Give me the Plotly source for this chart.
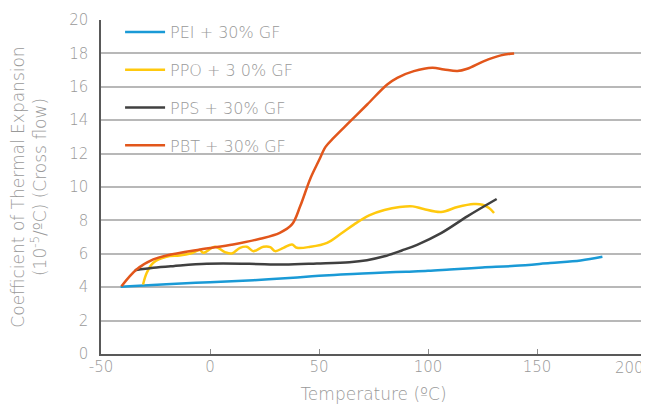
import plotly.graph_objects as go

# ---- data ----
pei_x = [-41, -20, 0, 20, 40, 50, 60, 70, 80, 90, 100, 110, 125, 140, 156, 170, 180]
pei_y = [4.02, 4.18, 4.30, 4.42, 4.58, 4.68, 4.76, 4.82, 4.88, 4.93, 4.98, 5.06, 5.18, 5.28, 5.45, 5.60, 5.82]

ppo_x = [-30.7, -29, -26, -20, -14, -9, -4.6, -3.1, 2.3, 6.9, 10, 13.8, 16.9, 19.9, 24.5,
         27.6, 29.9, 33.7, 37.6, 39.9, 46, 53.7, 60, 66, 73, 80, 87, 93, 98, 106, 113.5,
         121, 125, 128, 130.3]
ppo_y = [4.16, 4.86, 5.46, 5.82, 5.90, 6.02, 6.22, 6.06, 6.42, 6.10, 6.02, 6.36, 6.42, 6.16, 6.42,
         6.40, 6.16, 6.36, 6.56, 6.36, 6.42, 6.66, 7.20, 7.75, 8.30, 8.62, 8.80, 8.84, 8.68, 8.50, 8.80,
         8.98, 8.94, 8.74, 8.44]

pps_x = [-34.5, -26, -17, -1.5, 18, 34, 49, 64, 72, 80, 88, 95, 106, 118, 131.5]
pps_y = [5.02, 5.16, 5.26, 5.40, 5.40, 5.36, 5.42, 5.50, 5.62, 5.85, 6.20, 6.54, 7.24, 8.24, 9.28]

pbt_x = [-40.6, -33.7, -26, -20, -4.6, 10.6, 23, 32, 37.6, 41.4, 46, 50, 53, 56.7, 64.4, 72.1,
         81.3, 85.9, 93.5, 102, 107.3, 113.5, 118, 125.7, 133.4, 139.5]
pbt_y = [4.06, 5.06, 5.66, 5.90, 6.26, 6.56, 6.90, 7.26, 7.76, 8.86, 10.50, 11.60, 12.40, 12.94, 13.94, 14.94,
         16.14, 16.54, 16.94, 17.14, 17.04, 16.94, 17.08, 17.54, 17.88, 18.00]

series_names = ["PEI + 30% GF", "PPO + 3 0% GF", "PPS + 30% GF", "PBT + 30% GF"]
series_colors = ["#1a9ad6", "#ffc90e", "#404040", "#e2561b"]

x_ticks = [-50, 0, 50, 100, 150, 200]
x_tick_text = ["-50", "0", "50", "100", "150", ""]
last_x_label = "200"
y_ticks = [0, 2, 4, 6, 8, 10, 12, 14, 16, 18, 20]

FONT = "DejaVu Sans"
GREY = "#999999"
W = 300

fig = go.Figure()
for i, (xs, ys) in enumerate([(pei_x, pei_y), (ppo_x, ppo_y), (pps_x, pps_y), (pbt_x, pbt_y)]):
    fig.add_trace(go.Scatter(
        x=xs, y=ys, mode="lines", name=series_names[i],
        line=dict(color=series_colors[i], width=2.5, shape="spline", smoothing=1.0),
        legendgroup=f"g{i}",
    ))

# last x tick label kept inside the page (right-aligned at its tick)
fig.add_annotation(x=x_ticks[-1], xref="x", y=0, yref="paper", text=last_x_label,
                   showarrow=False, xanchor="right", yanchor="middle", yshift=-14,
                   font=dict(family=FONT, size=15, color=GREY, weight=W))

fig.update_layout(
    width=641, height=400,
    margin=dict(l=93, r=3, t=12, b=54),
    paper_bgcolor="white", plot_bgcolor="white",
    font=dict(family=FONT, color=GREY, size=14, weight=W),
    showlegend=True,
    legend=dict(
        x=0.035, y=1.015, xanchor="left", yanchor="top",
        bgcolor="rgba(0,0,0,0)",
        font=dict(family=FONT, size=16, color=GREY, weight=W),
        tracegroupgap=14, itemwidth=40,
        traceorder="grouped",
    ),
    xaxis=dict(
        range=[-50, 200], tickvals=x_ticks, ticktext=x_tick_text,
        showgrid=False, zeroline=False, automargin=False,
        showline=True, linecolor="#595959", linewidth=1.5,
        ticks="inside", ticklen=5, tickcolor="#8c8c8c", tickwidth=1,
        ticklabelstandoff=-2,
        tickfont=dict(family=FONT, size=15, color=GREY, weight=W),
        title=dict(text="Temperature (ºC)", font=dict(family=FONT, size=17, color=GREY, weight=W), standoff=13),
    ),
    yaxis=dict(
        range=[0, 20], tickvals=y_ticks, ticktext=[str(v) for v in y_ticks],
        showgrid=True, gridcolor="#b8b8b8", gridwidth=1.5,
        zeroline=False, automargin=False,
        showline=True, linecolor="#595959", linewidth=1.5,
        ticks="", ticklabelstandoff=8,
        tickfont=dict(family=FONT, size=15, color=GREY, weight=W),
        title=dict(text="Coefficient of Thermal Expansion<br>(10<sup>-5</sup>/ºC) (Cross flow)",
                   font=dict(family=FONT, size=17, color=GREY, weight=W), standoff=18),
    ),
)

fig.write_html("out.html")
